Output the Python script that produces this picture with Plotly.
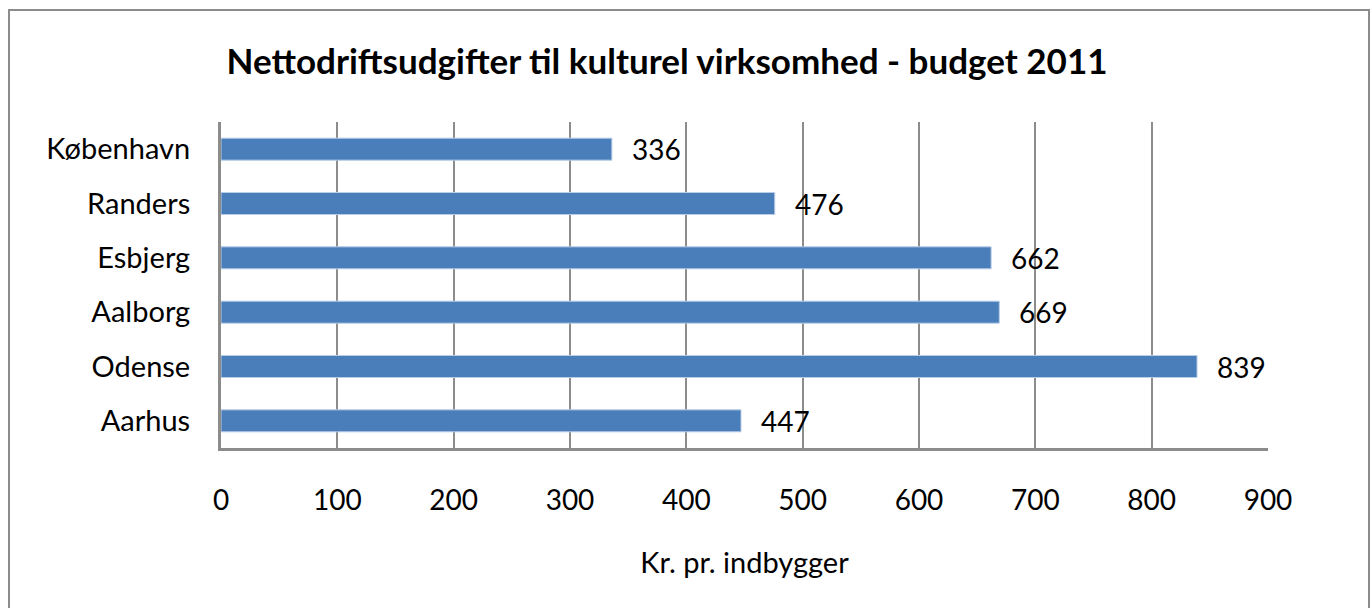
import plotly.graph_objects as go

categories = ["Aarhus", "Odense", "Aalborg", "Esbjerg", "Randers", "København"]
values = [447, 839, 669, 662, 476, 336]
x_ticks = [0, 100, 200, 300, 400, 500, 600, 700, 800, 900]

title_text = "Nettodriftsudgifter til kulturel virksomhed - budget 2011"
x_title = "Kr. pr. indbygger"

FONT = "Lato"
GRID = "#8c8c8a"

W, H = 1372, 608
L, R, T, B = 221, 104, 122, 160
pw, ph = W - L - R, H - T - B

fig = go.Figure()
fig.add_trace(go.Bar(
    x=values, y=categories, orientation="h",
    marker=dict(color="#4a7ebb", line=dict(color="#b9cde5", width=1)),
    hoverinfo="x+y",
))

for c, v in zip(categories, values):
    fig.add_annotation(x=v, y=c, text=str(v), showarrow=False, xanchor="left",
                       xshift=18, yshift=0,
                       font=dict(family=FONT, size=28, color="#000000"))

# outer chart border
fig.add_shape(type="rect", xref="paper", yref="paper",
              x0=(9 - L) / pw, x1=(1369 - L) / pw,
              y0=(H - B - 640) / ph, y1=(H - B - 10) / ph,
              line=dict(color="#8c8c8a", width=2), fillcolor="rgba(0,0,0,0)", layer="below")

fig.update_layout(
    width=W, height=H,
    margin=dict(l=L, r=R, t=T, b=B, pad=0),
    paper_bgcolor="white", plot_bgcolor="white",
    bargap=0.595,
    showlegend=False,
    font=dict(family=FONT, color="#000000"),
    title=dict(text="<b>" + title_text + "</b>", x=667 / W, xanchor="center",
               y=1 - 62 / H, yanchor="middle",
               font=dict(family=FONT, size=35, color="#000000")),
    xaxis=dict(range=[0, 900], tickvals=x_ticks, ticktext=[str(t) for t in x_ticks],
               showgrid=True, gridcolor=GRID, gridwidth=2,
               showline=True, linecolor=GRID, linewidth=3,
               ticks="", ticklabelstandoff=25, zeroline=False,
               tickfont=dict(family=FONT, size=28, color="#000000"),
               title=dict(text=x_title, standoff=39,
                          font=dict(family=FONT, size=29, color="#000000"))),
    yaxis=dict(showgrid=False, showline=True, linecolor=GRID, linewidth=3,
               ticks="", ticklabelstandoff=22,
               tickfont=dict(family=FONT, size=29, color="#000000")),
)

fig.write_html("out.html", config={"displayModeBar": False},
               post_script="document.body.style.margin='0';document.body.style.overflow='hidden';")
